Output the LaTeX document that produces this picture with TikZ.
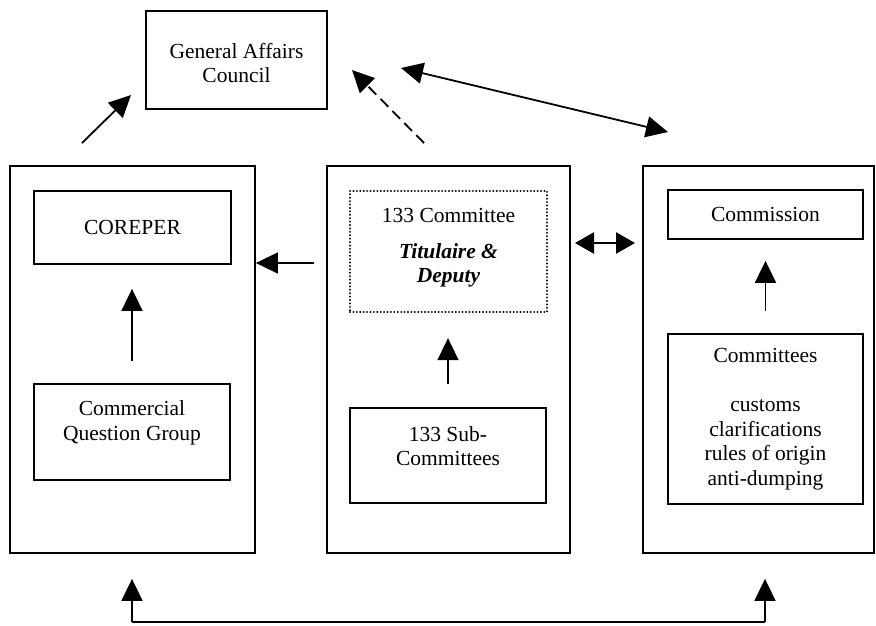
\documentclass[tikz,border=0pt]{standalone}
\usepackage{fontspec}
\setmainfont{Liberation Serif}
\usetikzlibrary{arrows.meta,calc}
\begin{document}
\begin{tikzpicture}[x=1pt,y=-1pt,
  every node/.style={font=\fontsize{21.5}{24.5}\selectfont},
  box/.style={draw, line width=1.8pt, inner sep=0pt, align=center},
  txt/.style={align=center, inner sep=0pt},
  dotbox/.style={draw, line width=2.3pt, inner sep=0pt, line cap=round, dash pattern=on 0.01pt off 3.4pt},
  arr/.style={line width=1.8pt, -{Triangle[width=21pt,length=22pt]}},
  darr/.style={line width=1.8pt, {Triangle[width=21pt,length=22pt]}-{Triangle[width=21pt,length=22pt]}},
  hdarr/.style={line width=2.6pt, {Triangle[width=21pt,length=19pt]}-{Triangle[width=21pt,length=19pt]}},
  dasharr/.style={line width=1.8pt, dash pattern=on 11pt off 6pt, -{Triangle[width=21pt,length=22pt]}}
]
\useasboundingbox[fill=white] (0,0) rectangle (876,625);

% outer boxes
\node[box, minimum width=245pt, minimum height=387pt] (L) at (132.5,359.5) {};
\node[box, minimum width=243pt, minimum height=387pt] (M) at (448.5,359.5) {};
\node[box, minimum width=231pt, minimum height=387pt] (R) at (758.5,359.5) {};

% top
\node[box, minimum width=181pt, minimum height=98pt] (gac) at (236.5,60) {};
\node[txt] (gactext) at (236.5,63) {General Affairs\\Council};

% left column
\node[box, minimum width=197pt, minimum height=73pt] (corep) at (132.5,227.5) {COREPER};
\node[box, minimum width=196pt, minimum height=96pt] (cqg) at (132,432) {};
\node[txt] (cqgtext) at (132,423) {Commercial\\Question Group};

% middle column
\node[dotbox, minimum width=197pt, minimum height=121pt] (c133) at (448.5,251.5) {};
\node[txt] (c133text) at (448.5,248) {133 Committee\\[11pt]\textbf{\textit{Titulaire \&}}\\\textbf{\textit{Deputy}}};
\node[box, minimum width=196pt, minimum height=95pt] (sub) at (448,455.5) {};
\node[txt] (subtext) at (448,446) {133 Sub-\\Committees};

% right column
\node[box, minimum width=195pt, minimum height=49pt] (comm) at (765.5,214.5) {Commission};
\node[box, minimum width=195pt, minimum height=170pt] (cttees) at (765.5,419)
  {Committees\\[24.5pt]customs\\clarifications\\rules of origin\\anti-dumping};

% inner vertical arrows
\draw[arr, shorten <=22pt, shorten >=24pt] (cqg.north) -- (cqg.north |- corep.south);
\draw[arr, shorten <=23pt, shorten >=25pt] (sub.north) -- (sub.north |- c133.south);
\draw[arr, shorten <=22pt, shorten >=21pt] (cttees.north) -- (cttees.north |- comm.south);

% horizontal arrows between columns
\coordinate (mlt) at (314,263);
\draw[arr] (mlt) -- (mlt -| L.east);
\coordinate (hl) at (575,243);
\coordinate (hr) at (635,243);
\draw[hdarr] (hl) -- (hr);

% arrows to General Affairs Council
\coordinate (a1s) at (82,143);
\coordinate (a1e) at (131,95);
\draw[arr] (a1s) -- (a1e);
\coordinate (a2s) at (424,143);
\coordinate (a2e) at (352,70);
\draw[dasharr] (a2s) -- (a2e);
\coordinate (a3s) at (401,68);
\coordinate (a3e) at (668,132);
\draw[darr] (a3s) -- (a3e);

% bottom connector
\coordinate (bl) at (132,622);
\coordinate (br) at (765,622);
\draw[line width=1.8pt] (bl) -- (br);
\draw[arr, shorten >=25pt] (bl) -- (bl |- L.south);
\draw[arr, shorten >=25pt] (br) -- (br |- R.south);
\end{tikzpicture}
\end{document}
